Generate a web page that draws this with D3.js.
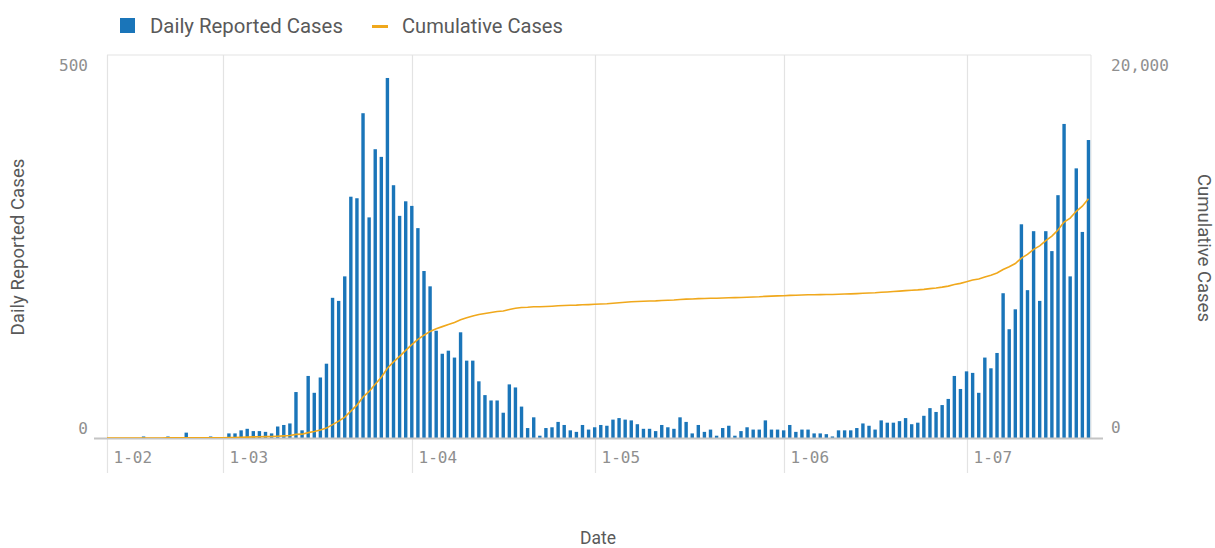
<!DOCTYPE html>
<html><head><meta charset="utf-8">
<script src="https://cdn.jsdelivr.net/npm/d3@7"></script>
<style>body{margin:0;background:#fff;} svg{display:block}</style>
</head><body><svg id="c" width="1215" height="548"></svg>
<script>
// ---- data ----
const firstDate = "2020-02-11";
const lastDate = "2020-07-21";
const daily = [
  // Feb 11 - Feb 29
  0,0,0,0,0,0,2,0,0,0,2,0,0,7,1,0,0,2,0,
  // Mar
  0,6,6,10,12,9,9,8,6,15,17,19,60,10,81,59,79,97,183,179,211,315,313,424,288,377,367,470,330,290,309,
  // Apr
  303,274,218,198,140,110,114,105,138,101,101,74,56,49,49,33,70,66,41,13,27,3,13,14,21,17,10,8,17,11,
  // May
  14,17,16,24,26,24,23,18,12,12,9,17,14,12,27,21,6,17,8,11,3,13,16,3,9,14,11,11,23,11,11,
  // Jun
  10,17,8,11,11,6,6,5,2,10,10,10,13,19,16,11,23,20,20,22,26,18,20,29,39,34,43,51,81,64,
  // Jul 1 - Jul 21
  87,85,59,105,91,111,189,142,168,279,193,270,179,270,244,317,410,211,352,269,389
];
const cumulative = [
  0,0,0,0,0,0,2,2,2,2,4,4,4,11,12,12,12,14,14,
  14,20,26,36,48,57,66,74,80,95,112,131,191,201,282,341,420,517,700,879,1090,1405,1718,2142,2430,2807,3174,3644,3974,4264,4573,
  4876,5150,5368,5566,5706,5816,5930,6035,6173,6274,6375,6449,6505,6554,6603,6636,6706,6772,6813,6826,6853,6856,6869,6883,6904,6921,6931,6939,6956,6967,
  6981,6998,7014,7038,7064,7088,7111,7129,7141,7153,7162,7179,7193,7205,7232,7253,7259,7276,7284,7295,7298,7311,7327,7330,7339,7353,7364,7375,7398,7409,7420,
  7430,7447,7455,7466,7477,7483,7489,7494,7496,7506,7516,7526,7539,7558,7574,7585,7608,7628,7648,7670,7696,7714,7734,7763,7802,7836,7879,7930,8011,8075,
  8162,8247,8306,8411,8502,8613,8802,8944,9112,9391,9584,9854,10033,10303,10547,10864,11274,11485,11837,12106,12495
];
const tickDates = ["2020-02-11","2020-03-01","2020-04-01","2020-05-01","2020-06-01","2020-07-01"];
const tickLabels = ["1-02","1-03","1-04","1-05","1-06","1-07"];
const leftTicks = [0, 500];
const rightTicks = [0, 20000];
const seriesNames = ["Daily Reported Cases", "Cumulative Cases"];

// ---- layout ----
const L = 107, R = 1091, T = 55, B = 438;
const barColor = "#1a75b9", lineColor = "#f0a81c";
const textColor = "#595959", tickColor = "#8f8f8f";
const svg = d3.select("#c");

const parse = d3.utcParse("%Y-%m-%d");
const start = parse(firstDate), end = parse(lastDate);
const dates = d3.utcDay.range(start, d3.utcDay.offset(end, 1));

const x = d3.scaleUtc().domain([start, d3.utcHour.offset(end, 10)]).range([L, R]);
const yL = d3.scaleLinear().domain([0, 500]).range([B, T]);
const yR = d3.scaleLinear().domain([0, 20000]).range([B, T]);

// frame / gridlines
const g = svg.append("g");
g.append("line").attr("x1", L).attr("x2", R).attr("y1", T).attr("y2", T).attr("stroke", "#e3e3e3");
g.append("line").attr("x1", R).attr("x2", R).attr("y1", T).attr("y2", B).attr("stroke", "#e3e3e3");
tickDates.forEach((d, i) => {
  const xx = Math.round(x(parse(d))) + 0.5;
  g.append("line").attr("x1", xx).attr("x2", xx).attr("y1", T).attr("y2", 473)
    .attr("stroke", "#e3e3e3").attr("stroke-width", 1.2);
  g.append("text").attr("x", xx + 6).attr("y", 457).attr("dominant-baseline", "central")
    .attr("font-family", "DejaVu Sans Mono").attr("font-size", 16).attr("fill", tickColor)
    .text(tickLabels[i]);
});

// clip
svg.append("clipPath").attr("id", "clip").append("rect")
  .attr("x", L).attr("y", T - 2).attr("width", R - L).attr("height", B - T + 2);

// bars
svg.append("g").attr("clip-path", "url(#clip)").selectAll("rect").data(dates).join("rect")
  .attr("x", d => x(d) - 1.7).attr("width", 3.4)
  .attr("y", (d, i) => yL(daily[i])).attr("height", (d, i) => B - yL(daily[i]))
  .attr("fill", barColor);

// baseline axis
svg.append("line").attr("x1", 94).attr("x2", 1103).attr("y1", B + 0.5).attr("y2", B + 0.5)
  .attr("stroke", "#c4c4c4").attr("stroke-width", 2);

// line
svg.append("path").datum(dates).attr("clip-path", "url(#clip)")
  .attr("d", d3.line().x(d => x(d)).y((d, i) => yR(cumulative[i])))
  .attr("fill", "none").attr("stroke", lineColor).attr("stroke-width", 1.6);

// y tick labels
const mono = sel => sel.attr("font-family", "DejaVu Sans Mono").attr("font-size", 16).attr("fill", tickColor).attr("dominant-baseline", "central");
leftTicks.forEach(v => {
  svg.append("text").call(mono).attr("x", 88).attr("y", v === 0 ? 428 : 65)
    .attr("text-anchor", "end").text(d3.format(",")(v));
});
rightTicks.forEach(v => {
  svg.append("text").call(mono).attr("x", 1111).attr("y", v === 0 ? 427 : 65)
    .attr("text-anchor", "start").text(d3.format(",")(v));
});

// fitted text helper
function fitText(sel, target) {
  const len = sel.node().getComputedTextLength();
  const fs = parseFloat(sel.attr("font-size"));
  sel.attr("font-size", fs * target / len);
  return sel;
}
const sans = sel => sel.attr("font-family", "Roboto").attr("font-size", 16).attr("fill", textColor).attr("dominant-baseline", "central");

// axis titles
fitText(svg.append("text").call(sans).attr("text-anchor", "middle")
  .attr("transform", "translate(18,247) rotate(-90)").text(seriesNames[0]), 177);
fitText(svg.append("text").call(sans).attr("text-anchor", "middle")
  .attr("transform", "translate(1204,248) rotate(90)").text(seriesNames[1]), 148);
fitText(svg.append("text").call(sans).attr("text-anchor", "middle")
  .attr("x", 598).attr("y", 538).text("Date"), 36);

// legend
svg.append("rect").attr("x", 120).attr("y", 18).attr("width", 15).attr("height", 15).attr("fill", barColor);
fitText(svg.append("text").call(sans).attr("x", 150).attr("y", 26).text(seriesNames[0]), 193);
svg.append("rect").attr("x", 372).attr("y", 25).attr("width", 16).attr("height", 3).attr("fill", lineColor);
fitText(svg.append("text").call(sans).attr("x", 402).attr("y", 26).text(seriesNames[1]), 161);
</script></body></html>
